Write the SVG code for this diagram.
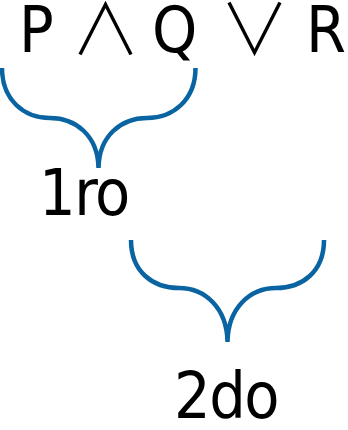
<svg xmlns="http://www.w3.org/2000/svg" width="348" height="430" viewBox="0 0 348 430">
<style>
.t{font-family:"DejaVu Sans","Liberation Sans",sans-serif;font-stretch:condensed;font-size:64px;fill:#000}
.w{letter-spacing:-1.5px}
.op{font-family:"Noto Sans CJK JP","DejaVu Sans",sans-serif;font-weight:300;font-size:70px}
.br{fill:none;stroke:#0a64a2;stroke-width:4.5;stroke-linecap:butt}
</style>
<rect width="348" height="430" fill="#fff"/>
<g id="formula">
<text class="t" y="52"><tspan x="19">P </tspan><tspan class="op" x="70.5" dy="3">∧ </tspan><tspan x="152" dy="-3">Q </tspan><tspan class="op" x="219.5" dy="3">∨ </tspan><tspan x="306" dy="-3">R</tspan></text>
</g>
<g id="first">
<text class="t w" x="39" y="215">1ro</text>
</g>
<g id="second">
<text class="t w" x="174" y="418">2do</text>
</g>
<g id="connectors">
<path class="br" d="M2,68 C2,100 24,118 50,118 C76,118 98,136 98.5,168 C99,136 121,118 147,118 C173,118 195.5,100 195.5,68"/>
<path class="br" d="M131,240 C131,272 153,288 179,288 C205,288 227,308 227.5,342 C228,308 250,288 276,288 C302,288 324,272 324,240"/>
</g>
</svg>
